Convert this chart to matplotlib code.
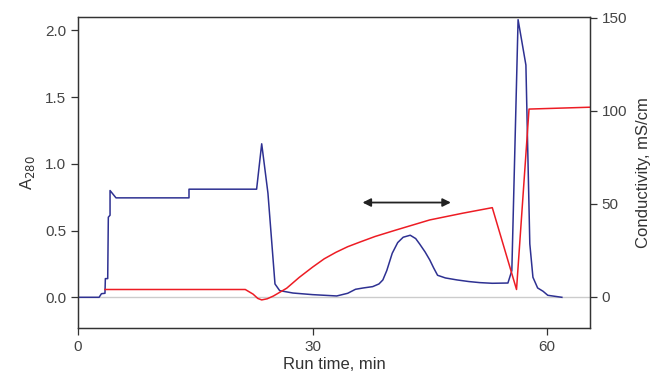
import matplotlib
matplotlib.use("Agg")
import matplotlib.pyplot as plt

# Absorbance A280 (blue)
a280_time = [0, 2.7, 3.0, 3.45, 3.5, 3.8, 3.88, 4.1, 4.1, 4.86, 14.2, 14.2, 22.85,
             23.5, 24.3, 25.2, 25.8, 27.5, 30.0, 33.1, 34.5, 35.5, 36.5, 37.7, 38.5,
             39.0, 39.5, 40.2, 40.9, 41.6, 42.5, 43.2, 43.7, 44.4, 45.0, 45.5, 46.0,
             47.0, 48.5, 50.0, 51.4, 53.0, 55.0, 55.5, 56.3, 57.3, 57.5, 57.8, 58.2,
             58.8, 59.5, 60.1, 61.9]
a280_vals = [0, 0, 0.027, 0.03, 0.14, 0.14, 0.6, 0.615, 0.8, 0.745, 0.745, 0.81, 0.81,
             1.15, 0.78, 0.1, 0.05, 0.032, 0.02, 0.01, 0.03, 0.06, 0.07, 0.08, 0.1,
             0.13, 0.2, 0.33, 0.41, 0.45, 0.465, 0.44, 0.4, 0.34, 0.28, 0.22, 0.165,
             0.145, 0.13, 0.118, 0.11, 0.105, 0.107, 0.2, 2.08, 1.74, 1.2, 0.4, 0.15,
             0.07, 0.045, 0.015, 0.0]

# Conductivity, mS/cm (red)
cond_time = [3.45, 21.4, 22.4, 23.0, 23.5, 24.2, 25.0, 26.7, 28.3, 30.0, 31.5, 33.0,
             34.5, 36.0, 38.0, 40.7, 45.0, 49.2, 53.0, 56.1, 57.7, 65.5]
cond_vals = [4, 4, 1.5, -0.8, -1.6, -1.0, 0.5, 4.7, 10.5, 16, 20.5, 24, 27, 29.4,
             32.5, 36, 41.4, 45, 48, 4, 101, 102]

# Arrow marking the elution window
arrow_x = [36.4, 47.7]
arrow_y = 0.71

blue = "#2e3192"
red = "#ed1c24"
dark = "#333333"

fig = plt.figure(figsize=(6.52, 3.75), dpi=100)
ax = fig.add_axes([78/652, 47/375, 512/652, 311/375])
ax2 = ax.twinx()

ax.axhline(0, color="#cccccc", lw=1.0, zorder=0)
ax.plot(a280_time, a280_vals, color=blue, lw=1.1, zorder=3)
ax2.plot(cond_time, cond_vals, color=red, lw=1.1, zorder=2)

ax.annotate("", xy=(arrow_x[0], arrow_y), xytext=(arrow_x[1], arrow_y),
            arrowprops=dict(arrowstyle="<|-|>", color="#222222", lw=1.3,
                            mutation_scale=12, shrinkA=0, shrinkB=0))

ax.set_xlim(0, 65.5)
ax.set_ylim(-0.23, 2.1)
ax2.set_ylim(-16.7, 150.5)

ax.set_xticks([0, 30, 60])
ax.set_yticks([0.0, 0.5, 1.0, 1.5, 2.0])
ax.set_yticklabels(["0.0", "0.5", "1.0", "1.5", "2.0"])
ax2.set_yticks([0, 50, 100, 150])

for a in (ax, ax2):
    for s in a.spines.values():
        s.set_color(dark)
        s.set_linewidth(0.9)
    a.tick_params(colors=dark, labelcolor="#444444", labelsize=11, length=5, width=0.9,
                  direction="out")

font = "Liberation Sans"
for lab in ax.get_xticklabels() + ax.get_yticklabels() + ax2.get_yticklabels():
    lab.set_fontfamily(font)

ax.set_xlabel("Run time, min", fontsize=12, color="#333333", family=font, labelpad=2)
ax.set_ylabel("A$_{280}$", fontsize=12, color="#333333", family=font, labelpad=6)
ax2.set_ylabel("Conductivity, mS/cm", fontsize=12, color="#333333", family=font, labelpad=6)

fig.savefig("out.png", dpi=100)
